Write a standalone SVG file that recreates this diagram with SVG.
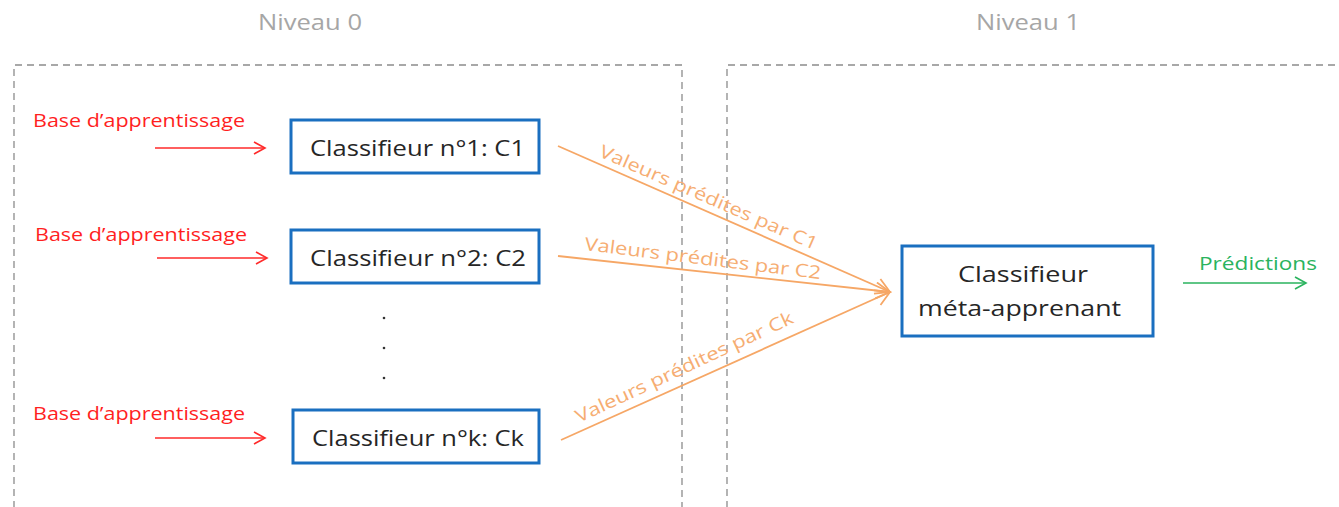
<svg xmlns="http://www.w3.org/2000/svg" width="1339" height="507" viewBox="0 0 1339 507">
<style>
.lvl{font-family:"Open Sans","Liberation Sans",sans-serif;font-size:21px;fill:#a6a6a6}
.zone{fill:none;stroke:#8c8c8c;stroke-width:1.3;stroke-dasharray:7,5}
.node rect{fill:#fff;stroke:#1a6fc0;stroke-width:3}
.ntxt{font-family:"Open Sans","Liberation Sans",sans-serif;font-size:22px;fill:#262626}
.red{font-family:"Open Sans","Liberation Sans",sans-serif;font-size:18px;fill:#ff1f1f}
.redl{stroke:#ff2a2a;stroke-width:1.6;fill:none}
.org{stroke:#f6a766;stroke-width:1.8;fill:none}
.otxt{font-family:"Open Sans","Liberation Sans",sans-serif;font-size:18px;fill:#f6ad72}
.grn{stroke:#2ab35e;stroke-width:1.6;fill:none}
.gtxt{font-family:"Open Sans","Liberation Sans",sans-serif;font-size:18px;fill:#2ab35e}
</style>
<defs>
<marker id="ar" markerWidth="14" markerHeight="14" refX="12" refY="7" orient="auto" markerUnits="userSpaceOnUse"><path d="M1,1 L12,7 L1,13" fill="none" stroke="#ff2a2a" stroke-width="1.6"/></marker>
<marker id="ao" markerWidth="18" markerHeight="18" refX="15" refY="9" orient="auto" markerUnits="userSpaceOnUse"><path d="M1,1 L15,9 L1,17" fill="none" stroke="#f6a766" stroke-width="1.8"/></marker>
<marker id="ag" markerWidth="14" markerHeight="14" refX="12" refY="7" orient="auto" markerUnits="userSpaceOnUse"><path d="M1,1 L12,7 L1,13" fill="none" stroke="#2ab35e" stroke-width="1.6"/></marker>
</defs>
<rect width="1339" height="507" fill="#fff"/>
<g id="zones">
<path class="zone" d="M14,520 L14,65 L682,65 L682,520"/>
<path class="zone" d="M727,520 L727,65 L1350,65"/>
<text class="lvl" x="258" y="30" textLength="104" lengthAdjust="spacingAndGlyphs">Niveau 0</text>
<text class="lvl" x="976" y="30" textLength="104" lengthAdjust="spacingAndGlyphs">Niveau 1</text>
</g>
<g id="connectors">
<line class="redl" x1="155" y1="148" x2="265" y2="148" marker-end="url(#ar)"/>
<line class="redl" x1="157" y1="258" x2="267" y2="258" marker-end="url(#ar)"/>
<line class="redl" x1="155" y1="438" x2="265" y2="438" marker-end="url(#ar)"/>
<line class="org" x1="558" y1="146" x2="890" y2="292" marker-end="url(#ao)"/>
<line class="org" x1="558" y1="256" x2="890" y2="292" marker-end="url(#ao)"/>
<line class="org" x1="561" y1="440" x2="890" y2="292" marker-end="url(#ao)"/>
<line class="grn" x1="1183" y1="283" x2="1306" y2="283" marker-end="url(#ag)"/>
<text class="red" x="33" y="127" textLength="212" lengthAdjust="spacingAndGlyphs">Base d’apprentissage</text>
<text class="red" x="35" y="241" textLength="212" lengthAdjust="spacingAndGlyphs">Base d’apprentissage</text>
<text class="red" x="33" y="420" textLength="212" lengthAdjust="spacingAndGlyphs">Base d’apprentissage</text>
<text class="otxt" transform="translate(598,156) rotate(23.5)" textLength="236" lengthAdjust="spacingAndGlyphs">Valeurs prédites par C1</text>
<text class="otxt" transform="translate(584,250) rotate(7)" textLength="238" lengthAdjust="spacingAndGlyphs">Valeurs prédites par C2</text>
<text class="otxt" transform="translate(579,423) rotate(-25)" textLength="238" lengthAdjust="spacingAndGlyphs">Valeurs prédites par Ck</text>
<text class="gtxt" x="1199" y="270" textLength="118" lengthAdjust="spacingAndGlyphs">Prédictions</text>
</g>
<g id="c1" class="node"><rect x="291" y="120" width="248" height="53"/><text class="ntxt" x="310" y="156" textLength="215" lengthAdjust="spacingAndGlyphs">Classifieur n°1: C1</text></g>
<g id="c2" class="node"><rect x="291" y="230" width="248" height="53"/><text class="ntxt" x="310" y="266" textLength="216" lengthAdjust="spacingAndGlyphs">Classifieur n°2: C2</text></g>
<g id="ck" class="node"><rect x="293" y="410" width="246" height="53"/><text class="ntxt" x="312" y="446" textLength="212" lengthAdjust="spacingAndGlyphs">Classifieur n°k: Ck</text></g>
<g id="dots" fill="#333"><circle cx="384" cy="318" r="1.3"/><circle cx="384" cy="348" r="1.3"/><circle cx="384" cy="378" r="1.3"/></g>
<g id="meta" class="node"><rect x="902" y="246" width="251" height="90"/><text class="ntxt" x="958" y="282" textLength="130" lengthAdjust="spacingAndGlyphs">Classifieur</text><text class="ntxt" x="918" y="316" textLength="203" lengthAdjust="spacingAndGlyphs">méta-apprenant</text></g>
</svg>
